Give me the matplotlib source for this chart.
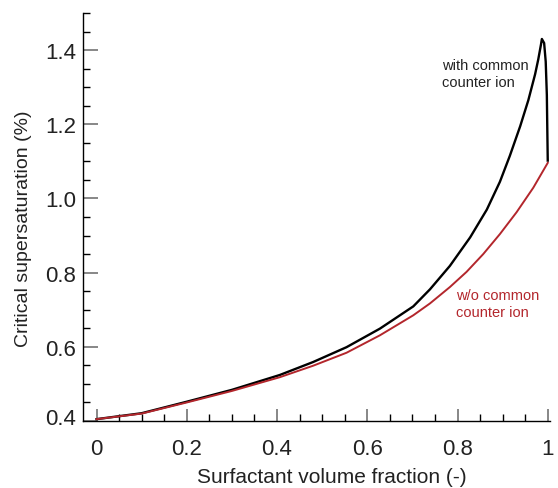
import matplotlib
matplotlib.use("Agg")
import matplotlib.pyplot as plt
from matplotlib.ticker import MultipleLocator, FixedLocator
from matplotlib.transforms import ScaledTranslation

plt.rcParams['font.family'] = ['Liberation Sans', 'DejaVu Sans']

# Black curve: with common counter ion
x_with = [0.0, 0.1, 0.2, 0.3, 0.406, 0.48, 0.554, 0.628, 0.702, 0.739, 0.783,
          0.828, 0.865, 0.894, 0.916, 0.939, 0.957, 0.972, 0.979, 0.985, 0.987,
          0.992, 0.9955, 0.998, 0.999, 1.0]
y_with = [0.405, 0.421, 0.452, 0.484, 0.524, 0.559, 0.599, 0.649, 0.709, 0.755,
          0.818, 0.895, 0.970, 1.045, 1.115, 1.195, 1.265, 1.335, 1.375, 1.415,
          1.430, 1.419, 1.369, 1.279, 1.189, 1.102]

# Red curve: without common counter ion
x_wo = [0.0, 0.1, 0.2, 0.3, 0.406, 0.48, 0.554, 0.628, 0.702, 0.739, 0.783,
        0.820, 0.857, 0.894, 0.931, 0.968, 1.0]
y_wo = [0.405, 0.420, 0.450, 0.481, 0.518, 0.549, 0.584, 0.631, 0.685, 0.717,
        0.761, 0.802, 0.850, 0.904, 0.963, 1.029, 1.096]

x_ticks = [0, 0.2, 0.4, 0.6, 0.8, 1]
x_ticklabels = ['0', '0.2', '0.4', '0.6', '0.8', '1']
y_ticks = [0.4, 0.6, 0.8, 1.0, 1.2, 1.4]
y_ticklabels = ['0.4', '0.6', '0.8', '1.0', '1.2', '1.4']

red = '#b3262c'

fig = plt.figure(figsize=(5.58, 4.89), dpi=100)
ax = fig.add_axes([83/558, (489-422)/489, 467/558, 408/489])

ax.plot(x_with, y_with, color='black', lw=1.7, solid_joinstyle='round')
ax.plot(x_wo, y_wo, color=red, lw=1.4, solid_joinstyle='round')

ax.set_xlim(-0.03, 1.005)
ax.set_ylim(0.4, 1.5)

ax.spines['top'].set_visible(False)
ax.spines['right'].set_visible(False)
ax.spines['left'].set_linewidth(1.0)
ax.spines['bottom'].set_linewidth(1.0)

ax.xaxis.set_major_locator(FixedLocator(x_ticks))
ax.set_xticklabels(x_ticklabels)
ax.xaxis.set_minor_locator(MultipleLocator(0.05))
ax.yaxis.set_major_locator(FixedLocator(y_ticks))
ax.set_yticklabels(y_ticklabels)
ax.yaxis.set_minor_locator(MultipleLocator(0.05))

ax.tick_params(axis='x', which='major', direction='in', length=8.5, width=1.2,
               color='0.45', labelsize=16, pad=12, labelcolor='#222222')
ax.tick_params(axis='y', which='major', direction='in', length=10.8, width=1.2,
               color='0.45', labelsize=16, pad=5, labelcolor='#222222')
ax.tick_params(which='minor', direction='in', length=5, width=1.0, color='black')

# lift the lowest y label slightly, as in the reference
lbl = ax.get_yticklabels()[0]
lbl.set_transform(lbl.get_transform() + ScaledTranslation(0, 5/100, fig.dpi_scale_trans))

ax.set_xlabel('Surfactant volume fraction (-)', fontsize=15, color='#222222')
ax.set_ylabel('Critical supersaturation (%)', fontsize=14, color='#222222')
ax.xaxis.set_label_coords(0.5325, -0.113)
ax.yaxis.set_label_coords(-0.109, 0.473)

ax.text(0.765, 1.337, 'with common\ncounter ion', fontsize=10.5, color='#222222',
        va='center', ha='left', linespacing=1.25)
ax.text(0.797, 0.7165, 'w/o common\ncounter ion', fontsize=10.5, color=red,
        va='center', ha='left', linespacing=1.25)

fig.savefig('out.png', dpi=100)
